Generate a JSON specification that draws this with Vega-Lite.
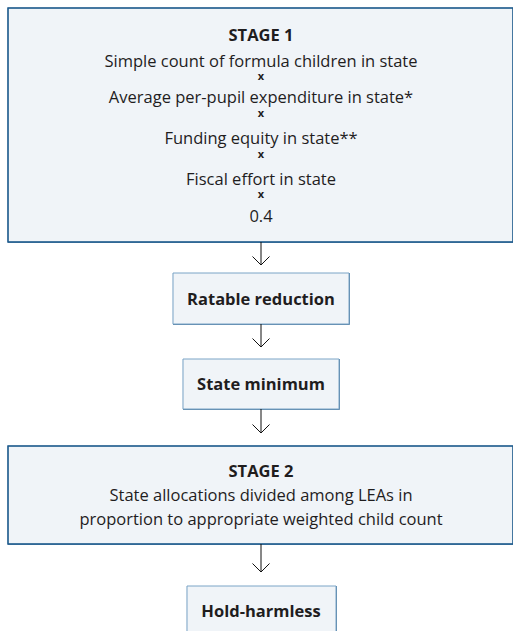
{
  "$schema": "https://vega.github.io/schema/vega-lite/v6.json",
  "width": 513,
  "height": 631,
  "padding": 0,
  "autosize": {"type": "none"},
  "background": "white",
  "config": {"view": {"stroke": null}},
  "datasets": {
    "boxes": [
      {"name": "Stage 1", "kind": "stage", "x1": 8, "x2": 513, "y1": 8, "y2": 242},
      {"name": "Ratable reduction", "kind": "step", "x1": 173, "x2": 349, "y1": 273, "y2": 324},
      {"name": "State minimum", "kind": "step", "x1": 183, "x2": 339, "y1": 359, "y2": 409},
      {"name": "Stage 2", "kind": "stage", "x1": 8, "x2": 513, "y1": 446, "y2": 544},
      {"name": "Hold-harmless", "kind": "step", "x1": 187, "x2": 336, "y1": 586, "y2": 645}
    ],
    "arrows": [
      {"x": 261, "y1": 242, "y2": 265},
      {"x": 261, "y1": 324, "y2": 347},
      {"x": 261, "y1": 409, "y2": 433},
      {"x": 261, "y1": 544, "y2": 572}
    ],
    "lines": [
      {"text": "STAGE 1", "kind": "title", "x": 261, "y": 41},
      {"text": "Simple count of formula children in state", "kind": "body", "x": 261, "y": 67},
      {"text": "x", "kind": "times", "x": 261, "y": 80},
      {"text": "Average per-pupil expenditure in state*", "kind": "body", "x": 261, "y": 103},
      {"text": "x", "kind": "times", "x": 261, "y": 117},
      {"text": "Funding equity in state**", "kind": "body", "x": 261, "y": 144},
      {"text": "x", "kind": "times", "x": 261, "y": 158},
      {"text": "Fiscal effort in state", "kind": "body", "x": 261, "y": 185},
      {"text": "x", "kind": "times", "x": 261, "y": 198},
      {"text": "0.4", "kind": "body", "x": 261, "y": 222},
      {"text": "Ratable reduction", "kind": "title", "x": 261, "y": 305},
      {"text": "State minimum", "kind": "title", "x": 261, "y": 390},
      {"text": "STAGE 2", "kind": "title", "x": 261, "y": 477},
      {"text": "State allocations divided among LEAs in", "kind": "body", "x": 261, "y": 501},
      {"text": "proportion to appropriate weighted child count", "kind": "body", "x": 261, "y": 525},
      {"text": "Hold-harmless", "kind": "title", "x": 261, "y": 617}
    ]
  },
  "layer": [
    {
      "data": {"name": "boxes"},
      "mark": {"type": "rect", "fill": null, "stroke": "#1d5787", "strokeWidth": 1.5, "xOffset": 0.7, "yOffset": 0.7, "clip": true},
      "encoding": {
        "x": {"field": "x1", "type": "quantitative", "scale": {"domain": [0, 513], "nice": false, "zero": false}, "axis": null},
        "x2": {"field": "x2"},
        "y": {"field": "y1", "type": "quantitative", "scale": {"domain": [0, 631], "nice": false, "zero": false, "reverse": true}, "axis": null},
        "y2": {"field": "y2"}
      }
    },
    {
      "data": {"name": "boxes"},
      "mark": {"type": "rect", "fill": "#f0f4f8", "stroke": "#7ba4c6", "strokeWidth": 1, "clip": true},
      "encoding": {
        "x": {"field": "x1", "type": "quantitative", "axis": null},
        "x2": {"field": "x2"},
        "y": {"field": "y1", "type": "quantitative", "axis": null},
        "y2": {"field": "y2"}
      }
    },
    {
      "data": {"name": "boxes"},
      "transform": [{"filter": "datum.kind === 'stage'"}],
      "mark": {"type": "rect", "fill": null, "stroke": "#1f5b8c", "strokeWidth": 1.5, "clip": true},
      "encoding": {
        "x": {"field": "x1", "type": "quantitative", "axis": null},
        "x2": {"field": "x2"},
        "y": {"field": "y1", "type": "quantitative", "axis": null},
        "y2": {"field": "y2"}
      }
    },
    {
      "data": {"name": "arrows"},
      "mark": {"type": "rule", "color": "#111111", "strokeWidth": 1},
      "encoding": {
        "x": {"field": "x", "type": "quantitative"},
        "y": {"field": "y1", "type": "quantitative"},
        "y2": {"field": "y2"}
      }
    },
    {
      "data": {"name": "arrows"},
      "mark": {"type": "point", "shape": "M-1,-1L0,0L1,-1", "filled": false, "stroke": "#111111", "strokeWidth": 1, "size": 289, "opacity": 1},
      "encoding": {
        "x": {"field": "x", "type": "quantitative"},
        "y": {"field": "y2", "type": "quantitative"}
      }
    },
    {
      "data": {"name": "lines"},
      "transform": [{"filter": "datum.kind === 'body'"}],
      "mark": {"type": "text", "font": "Open Sans", "fontSize": 16.5, "color": "#1f1d1e", "align": "center", "baseline": "alphabetic"},
      "encoding": {
        "x": {"field": "x", "type": "quantitative"},
        "y": {"field": "y", "type": "quantitative"},
        "text": {"field": "text"}
      }
    },
    {
      "data": {"name": "lines"},
      "transform": [{"filter": "datum.kind === 'title'"}],
      "mark": {"type": "text", "font": "Open Sans", "fontSize": 16.5, "fontWeight": "bold", "color": "#1f1d1e", "align": "center", "baseline": "alphabetic"},
      "encoding": {
        "x": {"field": "x", "type": "quantitative"},
        "y": {"field": "y", "type": "quantitative"},
        "text": {"field": "text"}
      }
    },
    {
      "data": {"name": "lines"},
      "transform": [{"filter": "datum.kind === 'times'"}],
      "mark": {"type": "text", "font": "Open Sans", "fontSize": 11, "fontWeight": "bold", "color": "#1f1d1e", "align": "center", "baseline": "alphabetic"},
      "encoding": {
        "x": {"field": "x", "type": "quantitative"},
        "y": {"field": "y", "type": "quantitative"},
        "text": {"field": "text"}
      }
    }
  ]
}
